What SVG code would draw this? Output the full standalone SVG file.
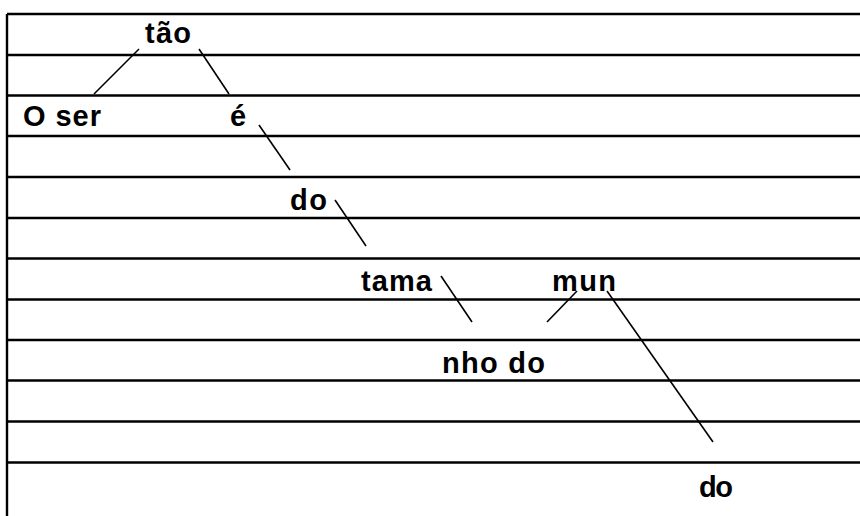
<svg xmlns="http://www.w3.org/2000/svg" width="860" height="516" viewBox="0 0 860 516">
<style>
.rule{stroke:#000;stroke-width:2.4;fill:none}
.conn line{stroke:#000;stroke-width:1.6}
text{font-family:"Liberation Sans",Arial,sans-serif;font-weight:bold;font-size:29px;fill:#000}
</style>
<rect width="860" height="516" fill="#fff"/>
<g id="rules" class="rule">
<line x1="7" y1="14" x2="7" y2="516"/>
<line x1="7" y1="14" x2="860" y2="14"/>
<line x1="7" y1="55" x2="860" y2="55"/>
<line x1="7" y1="95.5" x2="860" y2="95.5"/>
<line x1="7" y1="136" x2="860" y2="136"/>
<line x1="7" y1="177" x2="860" y2="177"/>
<line x1="7" y1="218" x2="860" y2="218"/>
<line x1="7" y1="258.5" x2="860" y2="258.5"/>
<line x1="7" y1="299.5" x2="860" y2="299.5"/>
<line x1="7" y1="340" x2="860" y2="340"/>
<line x1="7" y1="380.5" x2="860" y2="380.5"/>
<line x1="7" y1="421.5" x2="860" y2="421.5"/>
<line x1="7" y1="462.5" x2="860" y2="462.5"/>
</g>
<g id="connectors" class="conn">
<line x1="139" y1="49" x2="94" y2="94"/>
<line x1="199" y1="49" x2="229" y2="94"/>
<line x1="259" y1="125" x2="290" y2="170"/>
<line x1="335" y1="200" x2="366" y2="246"/>
<line x1="441" y1="276" x2="472" y2="322"/>
<line x1="577" y1="291" x2="547" y2="322"/>
<line x1="607" y1="291" x2="713" y2="442"/>
</g>
<g id="n-tao"><text x="145" y="43" textLength="46" lengthAdjust="spacing">tão</text></g>
<g id="n-oser"><text x="23" y="126" textLength="78" lengthAdjust="spacing">O ser</text></g>
<g id="n-e"><text x="230" y="126">é</text></g>
<g id="n-do1"><text x="290" y="210" textLength="37" lengthAdjust="spacing">do</text></g>
<g id="n-tama"><text x="361" y="291" textLength="71" lengthAdjust="spacing">tama</text></g>
<g id="n-mun"><text x="552" y="291" textLength="64" lengthAdjust="spacing">mun</text></g>
<g id="n-nhodo"><text x="442" y="373" textLength="103" lengthAdjust="spacing">nho do</text></g>
<g id="n-do2"><text x="699" y="497" textLength="34" lengthAdjust="spacing">do</text></g>
</svg>
